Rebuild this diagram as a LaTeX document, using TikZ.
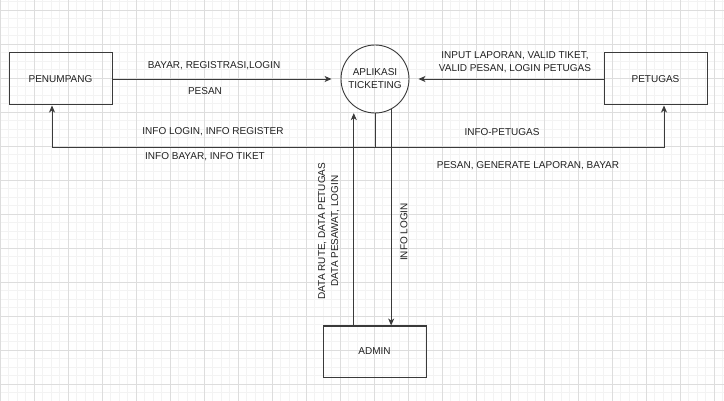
\documentclass[tikz,border=0pt]{standalone}
\usepackage{fontspec}
\setmainfont{Liberation Sans}
\usepackage{tikz}
\usetikzlibrary{arrows.meta,positioning}

\definecolor{gridmajor}{HTML}{DDDDDD}
\definecolor{gridminor}{HTML}{F3F3F3}
\definecolor{ink}{HTML}{222222}
\definecolor{edge}{HTML}{3A3A3A}

\begin{document}
\begin{tikzpicture}[x=1pt,y=-1pt]
\tikzstyle{every node}+=[inner sep=0pt,font=\fontsize{10}{13}\selectfont,text=ink]
\tikzstyle{entity}=[draw=edge,line width=1pt,minimum width=103pt,minimum height=52pt]
\tikzstyle{process}=[draw=edge,line width=0.9pt,circle,minimum size=68pt,align=center]
\tikzstyle{flow}=[draw=edge,line width=0.9pt,-{Stealth[length=7pt,width=6pt,inset=2pt]}]
\tikzstyle{wire}=[draw=edge,line width=0.9pt]
\useasboundingbox (0,0) rectangle (724,401);
\fill[white] (0,0) rectangle (724,401);
% grid
\foreach \x in {0,8.5,...,724} \draw[gridminor,line width=0.6pt] (\x,0) -- (\x,401);
\foreach \y in {1.5,10,...,401} \draw[gridminor,line width=0.6pt] (0,\y) -- (724,\y);
\foreach \x in {0,34,...,724} \draw[gridmajor,line width=0.7pt] (\x,0) -- (\x,401);
\foreach \y in {10,44,...,401} \draw[gridmajor,line width=0.7pt] (0,\y) -- (724,\y);
% nodes
\node[entity] (penumpang) at (60.5,79) {PENUMPANG};
\node[process] (app) at (375,79) {APLIKASI\\TICKETING};
\node[entity] (petugas) at (655.5,79) {PETUGAS};
\node[entity,minimum height=51pt] (admin) at (374.5,351.5) {ADMIN};
\coordinate (bus) at (375,147);
\coordinate (busL) at (52,147);
\coordinate (busR) at (664,147);
% flows
\draw[flow,shorten >=9pt] (penumpang) -- (app);
\draw[flow,shorten >=9pt] (petugas) -- (app);
\draw[wire] (app.south) -- (bus);
\draw[flow] (bus) -- (busL) -- (busL |- penumpang.south);
\draw[flow] (bus) -- (busR) -- (busR |- petugas.south);
\draw[flow,shorten >=7pt] (admin.north -| app.-128) -- (app.-128);
\draw[flow] (app.-62) -- (app.-62 |- admin.north);
% labels
\node (l-bayar) at (214,66) {BAYAR, REGISTRASI,LOGIN};
\node (l-pesan) at (205,91) {PESAN};
\node (l-infologin) at (213,132) {INFO LOGIN, INFO REGISTER};
\node (l-infobayar) at (205,157) {INFO BAYAR, INFO TIKET};
\node[align=center] (l-input) at (515,61.7) {INPUT LAPORAN, VALID TIKET,\\VALID PESAN, LOGIN PETUGAS};
\node (l-infopetugas) at (502,132) {INFO-PETUGAS};
\node (l-generate) at (528,166) {PESAN, GENERATE LAPORAN, BAYAR};
\node[rotate=90,align=center] (l-data) at (328.7,231) {DATA RUTE, DATA PETUGAS\\DATA PESAWAT, LOGIN};
\node[rotate=90] (l-infoadmin) at (404,232) {INFO LOGIN};
\end{tikzpicture}
\end{document}
